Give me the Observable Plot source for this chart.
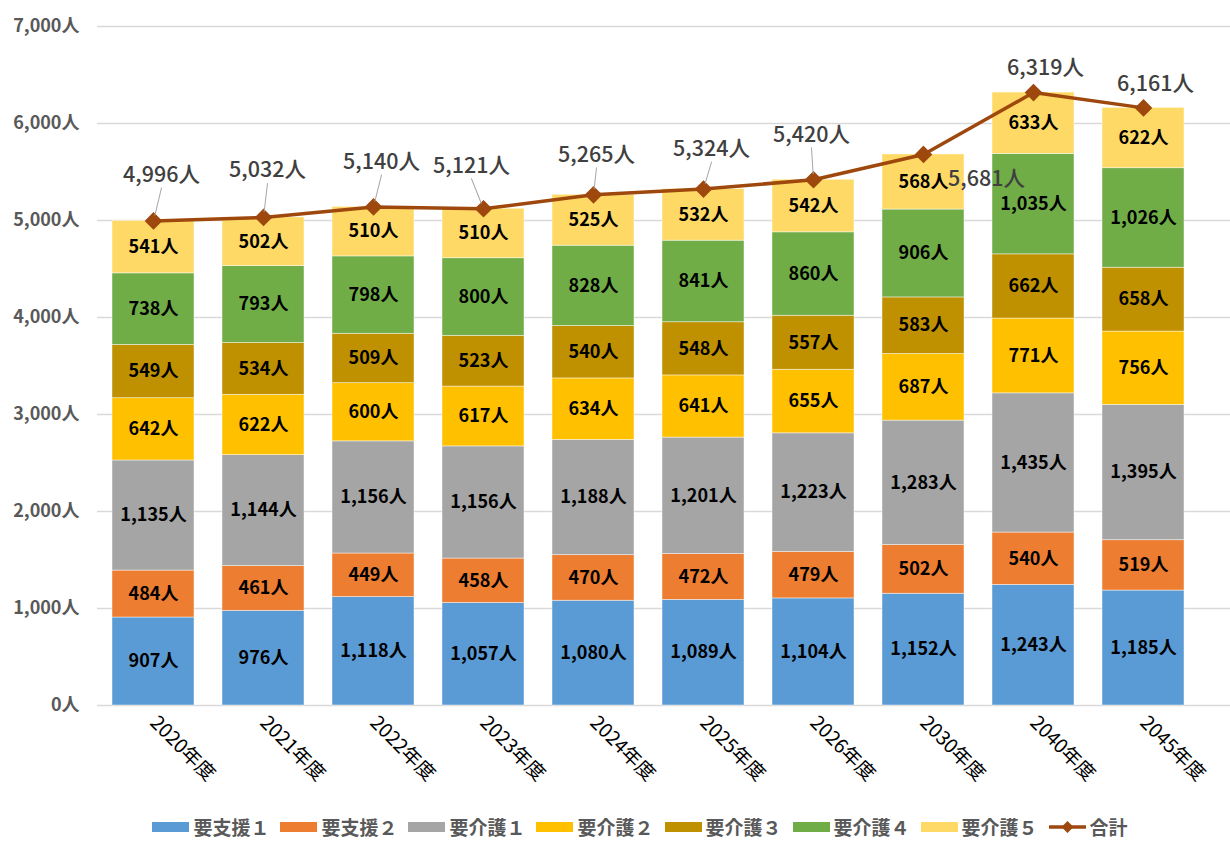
<!DOCTYPE html>
<html>
<head>
<meta charset="utf-8">
<script src="https://cdn.jsdelivr.net/npm/d3@7"></script>
<script src="https://cdn.jsdelivr.net/npm/@observablehq/plot@0.6"></script>
<style>
  body { margin: 0; background: #fff; font-family: "Noto Sans CJK JP", sans-serif; }
  #chart svg { display: block; }
  #legend { display: flex; justify-content: center; gap: 11px; margin-top: 11px; padding-left: 50px; font-size: 19px; line-height: 22px; font-weight: bold; color: #595959; }
  #legend .item { display: flex; align-items: center; gap: 4px; line-height: 22px; }
  #legend .sw { width: 37px; height: 10px; display: inline-block; }
</style>
</head>
<body>
<div id="chart"></div>
<div id="legend"></div>
<script>
const years = ["2020年度","2021年度","2022年度","2023年度","2024年度","2025年度","2026年度","2030年度","2040年度","2045年度"];
const seriesNames = ["要支援１","要支援２","要介護１","要介護２","要介護３","要介護４","要介護５"];
const shien1 = [907, 976, 1118, 1057, 1080, 1089, 1104, 1152, 1243, 1185];
const shien2 = [484, 461, 449, 458, 470, 472, 479, 502, 540, 519];
const kaigo1 = [1135, 1144, 1156, 1156, 1188, 1201, 1223, 1283, 1435, 1395];
const kaigo2 = [642, 622, 600, 617, 634, 641, 655, 687, 771, 756];
const kaigo3 = [549, 534, 509, 523, 540, 548, 557, 583, 662, 658];
const kaigo4 = [738, 793, 798, 800, 828, 841, 860, 906, 1035, 1026];
const kaigo5 = [541, 502, 510, 510, 525, 532, 542, 568, 633, 622];
const totals = [4996, 5032, 5140, 5121, 5265, 5324, 5420, 5681, 6319, 6161];
const yTicks = [0, 1000, 2000, 3000, 4000, 5000, 6000, 7000];

const colors = ["#5B9BD5","#ED7D31","#A5A5A5","#FFC000","#BF9000","#70AD47","#FFD966"];
const lineColor = "#9E480E";
// pixel nudges for the total labels [dx, dy, leader]
const totalLabelNudge = [[8,-46,1],[4,-47,1],[8,-45,1],[-12,-43,1],[3,-40,1],[8,-40,1],[-2,-45,1],[63,25,0],[12,-24,0],[12,-24,0]];

const seriesValues = [shien1, shien2, kaigo1, kaigo2, kaigo3, kaigo4, kaigo5];
const tidy = [];
seriesNames.forEach((s, si) => years.forEach((yr, i) => tidy.push({year: yr, series: s, value: seriesValues[si][i]})));
const totalData = years.map((yr, i) => ({year: yr, total: totals[i]}));
const fmt = v => d3.format(",")(v) + "人";

const font = '"Noto Sans CJK JP", sans-serif';

const leaderShape = {
  draw(context, l) { context.moveTo(0, -6); context.lineTo(0, -l); }
};

const labelMarks = [];
totalData.forEach((d, i) => {
  const [dx, dy, leader] = totalLabelNudge[i];
  if (leader) {
    const ty = dy + 13;
    const len = Math.hypot(dx, ty);
    const rot = Math.atan2(dx, -ty) * 180 / Math.PI;
    labelMarks.push(Plot.vector([d], {x: "year", y: "total", length: len, rotate: rot, anchor: "start", shape: leaderShape, stroke: "#A6A6A6", strokeWidth: 1}));
  }
  labelMarks.push(Plot.text([d], {x: "year", y: "total", text: d => fmt(d.total), dx, dy, fontSize: 21.5, fontWeight: 500, fill: "#404040", fontFamily: font}));
});

const chart = Plot.plot({
  width: 1230,
  height: 805,
  marginLeft: 97,
  marginRight: 0,
  marginTop: 26,
  marginBottom: 100,
  style: {fontFamily: font, background: "#fff", overflow: "visible"},
  x: {domain: years, range: [97, 1198], paddingInner: 0.255, paddingOuter: 0.1275, label: null},
  y: {domain: [0, 7000], label: null},
  color: {domain: seriesNames, range: colors},
  marks: [
    Plot.ruleY(yTicks, {stroke: "#D9D9D9", strokeWidth: 1.3}),
    Plot.barY(tidy, {x: "year", y: "value", fill: "series", order: null, stroke: "#fff", strokeOpacity: 0.6, strokeWidth: 0.75}),
    Plot.text(tidy, Plot.stackY({x: "year", y: "value", z: "series", order: null, text: d => fmt(d.value), fontSize: 18, fontWeight: "bold", fill: "#000", fontFamily: font})),
    Plot.lineY(totalData, {x: "year", y: "total", stroke: lineColor, strokeWidth: 3.5}),
    Plot.dot(totalData, {x: "year", y: "total", symbol: "diamond2", r: 7, fill: lineColor, stroke: lineColor}),
    ...labelMarks,
    Plot.axisY(yTicks, {tickSize: 0, tickPadding: 18, tickFormat: d => d3.format(",")(d) + "人", fontSize: 18, fontWeight: "bold", fill: "#595959", label: null}),
    Plot.axisX({tickSize: 0, tickPadding: 14, tickRotate: 45, fontSize: 19.5, fill: "#000", label: null})
  ]
});
document.getElementById("chart").append(chart);

const legend = document.getElementById("legend");
seriesNames.forEach((s, i) => {
  const it = document.createElement("div");
  it.className = "item";
  it.innerHTML = `<span class="sw" style="background:${colors[i]}"></span><span>${s}</span>`;
  legend.append(it);
});
const tot = document.createElement("div");
tot.className = "item";
tot.innerHTML = `<svg width="37" height="14"><line x1="0" y1="7" x2="37" y2="7" stroke="${lineColor}" stroke-width="3.5"/><path d="M18.5 1 L24.5 7 L18.5 13 L12.5 7 Z" fill="${lineColor}"/></svg><span>合計</span>`;
legend.append(tot);
</script>
</body>
</html>
